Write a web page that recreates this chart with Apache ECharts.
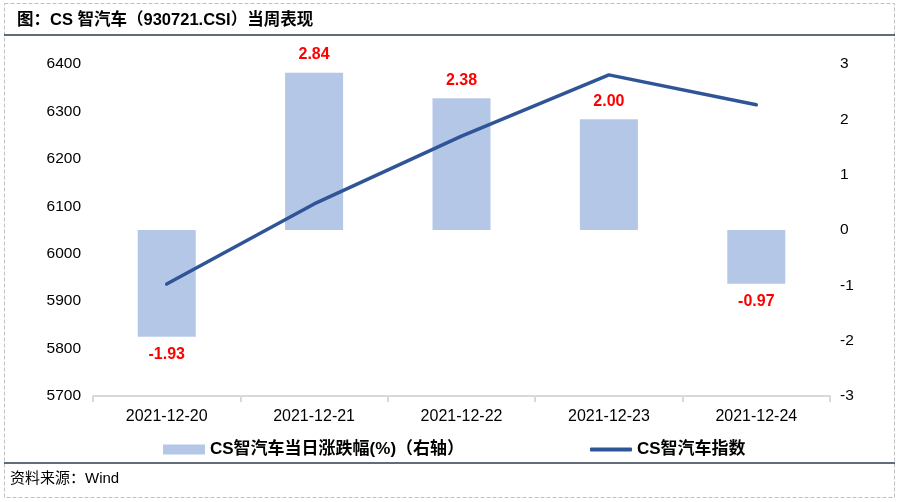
<!DOCTYPE html>
<html><head><meta charset="utf-8">
<script src="https://cdn.jsdelivr.net/npm/echarts@6/dist/echarts.min.js"></script>
<style>html,body{margin:0;padding:0;background:#fff}#c{width:899px;height:502px}</style>
</head><body><div id="c"></div>
<script>
const categories = ['2021-12-20','2021-12-21','2021-12-22','2021-12-23','2021-12-24'];
const dailyChange = [-1.93, 2.84, 2.38, 2.00, -0.97];
const indexValues = [5936, 6105, 6248, 6377, 6314];
const barName = 'CS智汽车当日涨跌幅(%)（右轴）';
const lineName = 'CS智汽车指数';
const titleText = '图：CS 智汽车（930721.CSI）当周表现';
const sourceText = '资料来源：Wind';

const FF = 'Liberation Sans, Arial, Noto Sans CJK SC, sans-serif';
const chart = echarts.init(document.getElementById('c'), null, {renderer: 'canvas'});
chart.setOption({
  animation: false,
  textStyle: {fontFamily: FF},
  graphic: [
    {type: 'rect', shape: {x: 4.5, y: 3.5, width: 890, height: 494}, style: {fill: 'none', stroke: '#c0c0c0', lineWidth: 1, lineDash: [4, 2]}, silent: true},
    {type: 'line', shape: {x1: 4, y1: 35, x2: 895, y2: 35}, style: {stroke: '#2e3b4e', lineWidth: 1.5}, silent: true},
    {type: 'line', shape: {x1: 4, y1: 463, x2: 895, y2: 463}, style: {stroke: '#2e3b4e', lineWidth: 1.5}, silent: true},
    {type: 'text', left: 17, top: 12, style: {text: titleText, font: 'bold 16.5px ' + FF, fill: '#000'}},
    {type: 'text', left: 10, top: 471, style: {text: sourceText, font: '15px ' + FF, fill: '#000'}}
  ],
  grid: {left: 93, right: 69, top: 64, bottom: 106, containLabel: false},
  legend: [
    {data: [barName], left: 158, top: 436, itemWidth: 42, itemHeight: 10, icon: 'rect', itemGap: 3,
     textStyle: {fontSize: 17, fontWeight: 'bold', color: '#000', fontFamily: FF}},
    {data: [lineName], left: 585, top: 436, itemWidth: 42, itemHeight: 4, icon: 'roundRect', itemGap: 3,
     textStyle: {fontSize: 17, fontWeight: 'bold', color: '#000', fontFamily: FF}}
  ],
  xAxis: {
    type: 'category', data: categories,
    axisLine: {onZero: false, lineStyle: {color: '#d9d9d9', width: 2}},
    axisTick: {show: true, length: 6, lineStyle: {color: '#d9d9d9', width: 2}},
    axisLabel: {fontSize: 16, color: '#000', margin: 13}
  },
  yAxis: [
    {type: 'value', min: 5700, max: 6400, interval: 100, position: 'left',
     axisLine: {show: false}, axisTick: {show: false}, splitLine: {show: false},
     axisLabel: {fontSize: 15.5, color: '#000', margin: 12, formatter: v => String(v)}},
    {type: 'value', min: -3, max: 3, interval: 1, position: 'right',
     axisLine: {show: false}, axisTick: {show: false}, splitLine: {show: false},
     axisLabel: {fontSize: 15.5, color: '#000', margin: 10, formatter: v => String(v)}}
  ],
  series: [
    {name: barName, type: 'bar', yAxisIndex: 1, data: dailyChange.map(v => ({
        value: v,
        label: {show: true, position: v >= 0 ? 'top' : 'bottom', distance: 10,
                formatter: p => p.value.toFixed(2), color: '#ff0000', fontWeight: 'bold', fontSize: 16, fontFamily: FF}
      })),
     barWidth: 58, itemStyle: {color: '#b4c7e7'}, z: 2},
    {name: lineName, type: 'line', yAxisIndex: 0, data: indexValues,
     showSymbol: false, symbol: 'none', lineStyle: {color: '#2f5597', width: 3.5, cap: 'round', join: 'round'},
     itemStyle: {color: '#2f5597'}, z: 3}
  ]
});
</script></body></html>
